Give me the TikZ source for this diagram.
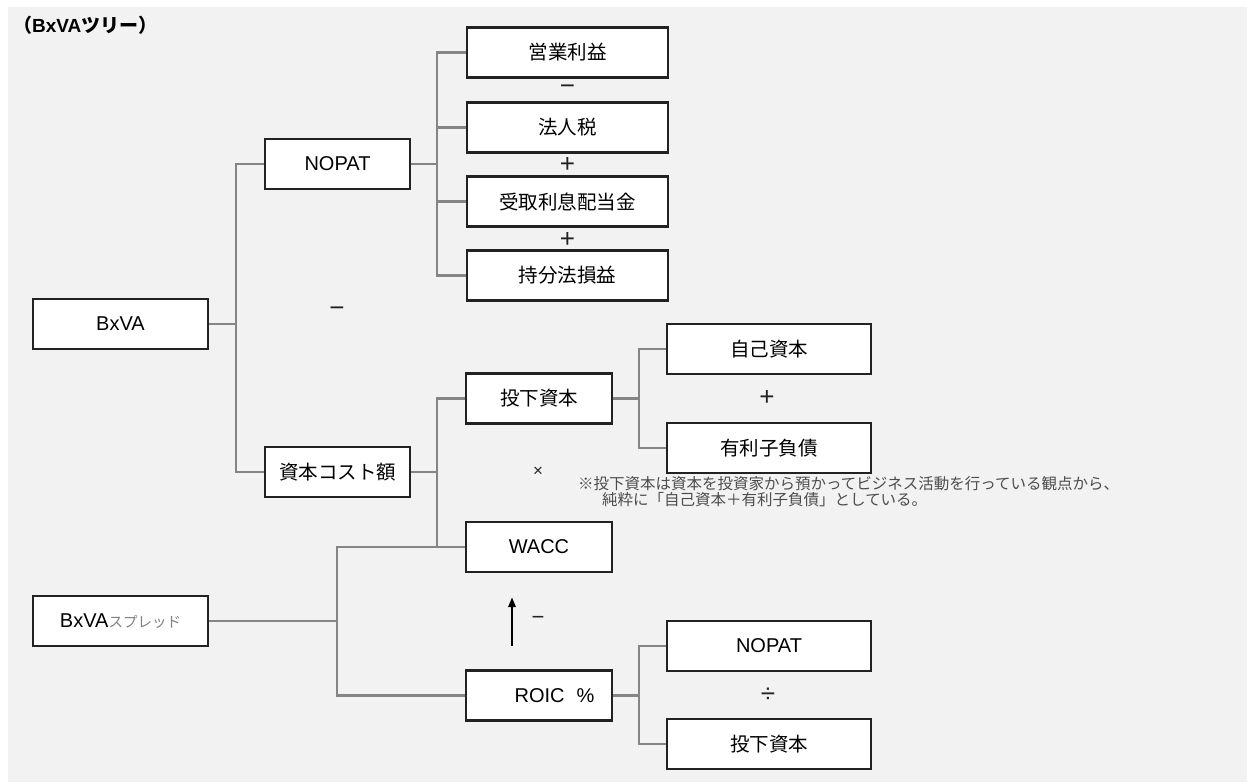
\documentclass[tikz,border=0pt]{standalone}
\usepackage{fontspec}
\setmainfont{Liberation Sans}
\newfontfamily\jp{Noto Sans CJK JP}
\usetikzlibrary{arrows.meta}
\definecolor{bg}{HTML}{F2F2F2}
\definecolor{conn}{HTML}{858585}
\definecolor{frame}{HTML}{222222}
\definecolor{notegray}{HTML}{4D4D4D}
\begin{document}
\begin{tikzpicture}[x=1pt,y=-1pt,
  box/.style={draw=frame, line width=2.5pt, fill=white, minimum height=50pt, inner sep=0pt, font=\fontsize{20}{24}\selectfont},
  jbox/.style={box, font=\jp\fontsize{19.5}{22}\selectfont},
  link/.style={draw=conn, line width=2.2pt},
  op/.style={inner sep=0pt, font=\fontsize{26}{28}\selectfont, text=frame},
  note/.style={anchor=west, inner sep=0pt, font=\jp\fontsize{15.5}{17}\selectfont, text=notegray}]
\useasboundingbox (0,0) rectangle (1247,782);
\fill[white] (0,0) rectangle (1247,782);
\fill[bg] (8,7) rectangle (1247,782);

% title
\node[anchor=west, inner sep=0pt, font=\bfseries\fontsize{19}{21}\selectfont] (title) at (13,25) {{\jp （}BxVA{\jp ツリー）}};

% boxes
\node[box, minimum width=175pt] (bxva) at (120.5,324) {BxVA};
\node[box, minimum width=175pt] (spread) at (120.5,621) {BxVA{\jp\fontsize{14.5}{16}\selectfont\color{gray}スプレッド}};
\node[box, minimum width=145pt] (nopat) at (337.5,164) {NOPAT};
\node[jbox, minimum width=145pt] (cost) at (337.5,472) {資本コスト額};
\node[jbox, minimum width=201pt] (op1) at (567.5,52.5) {営業利益};
\node[jbox, minimum width=201pt] (op2) at (567.5,127.5) {法人税};
\node[jbox, minimum width=201pt] (op3) at (567.5,201.5) {受取利息配当金};
\node[jbox, minimum width=201pt] (op4) at (567.5,275.5) {持分法損益};
\node[jbox, minimum width=146pt] (invest) at (539,398.5) {投下資本};
\node[box, minimum width=146pt] (wacc) at (539,547) {WACC};
\node[box, minimum width=146pt] (roic) at (539,695.5) {\hspace*{31pt}ROIC\hspace{12pt}\%};
\node[jbox, minimum width=204pt] (equity) at (769,349) {自己資本};
\node[jbox, minimum width=204pt] (debt) at (769,448) {有利子負債};
\node[box, minimum width=204pt] (rnopat) at (769,646) {NOPAT};
\node[jbox, minimum width=204pt] (rinvest) at (769,744) {投下資本};

% connectors
\coordinate (j1) at (236,324);
\draw[link] (bxva.east) -- (j1);
\draw[link] (j1) |- (nopat.west);
\draw[link] (j1) |- (cost.west);

\coordinate (j2) at (437,164);
\draw[link] (nopat.east) -- (j2);
\draw[link] (j2) |- (op1.west);
\draw[link] (j2) |- (op2.west);
\draw[link] (j2) |- (op3.west);
\draw[link] (j2) |- (op4.west);

\coordinate (j3) at (437,472);
\draw[link] (cost.east) -- (j3);
\draw[link] (j3) |- (invest.west);
\draw[link] (j3) |- (wacc.west);

\coordinate (j4) at (639,398.5);
\draw[link] (invest.east) -- (j4);
\draw[link] (j4) |- (equity.west);
\draw[link] (j4) |- (debt.west);

\coordinate (j5) at (337,621);
\draw[link] (spread.east) -- (j5);
\draw[link] (j5) |- (wacc.west);
\draw[link] (j5) |- (roic.west);

\coordinate (j6) at (639,695.5);
\draw[link] (roic.east) -- (j6);
\draw[link] (j6) |- (rnopat.west);
\draw[link] (j6) |- (rinvest.west);

% operators
\node[op] (m1) at (567.5,90) {−};
\node[op] (p1) at (567.5,165) {+};
\node[op] (p2) at (567.5,239.5) {+};
\node[op] (m2) at (337,312) {−};
\node[op] (p3) at (767,398) {+};
\node[op, font=\fontsize{17}{18}\selectfont] (x1) at (538,472) {×};
\node[op] (dv) at (768,695) {÷};
\node[op, font=\fontsize{22}{24}\selectfont] (m3) at (538,620) {−};

% arrow
\coordinate (a0) at (512,646);
\coordinate (a1) at (512,597);
\draw[line width=2.5pt, draw=black, -{Triangle[length=10pt,width=7pt]}] (a0) -- (a1);

% note
\node[note] (note1) at (578,484) {※投下資本は資本を投資家から預かってビジネス活動を行っている観点から、};
\node[note] (note2) at (602,500) {純粋に「自己資本＋有利子負債」としている。};
\end{tikzpicture}
\end{document}
